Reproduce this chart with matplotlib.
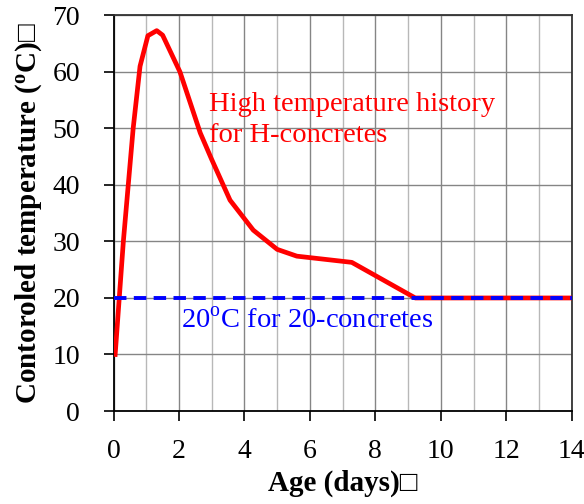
import numpy as np
import matplotlib
matplotlib.use("Agg")
import matplotlib.pyplot as plt
from matplotlib.ticker import MultipleLocator

plt.rcParams['font.family'] = ['Liberation Serif', 'DejaVu Sans']
plt.rcParams['mathtext.fontset'] = 'custom'
plt.rcParams['mathtext.rm'] = 'Liberation Serif'
plt.rcParams['mathtext.bf'] = 'Liberation Serif:bold'

# high temperature history (H-concretes)
age_h = [0.05, 0.3, 0.6, 0.81, 1.05, 1.32, 1.5, 2.03, 2.65, 3.0, 3.56, 4.27, 5.0, 5.6, 7.28, 9.22, 14.0]
temp_h = [10, 30, 50, 61, 66.4, 67.3, 66.5, 60, 49.2, 44.5, 37.3, 32, 28.6, 27.4, 26.3, 20, 20]

# 20 C for 20-concretes
age_20 = [0, 14]
temp_20 = [20, 20]

fig = plt.figure(figsize=(5.84, 5.04), dpi=100)
ax = fig.add_axes([0.1944, 0.1845, 0.7846, 0.785])

ax.plot(age_h, temp_h, color='#ff0000', lw=3.4, solid_joinstyle='round', zorder=3)
ax.plot(age_20, temp_20, color='#0000ff', lw=2.8, dashes=(3.2, 1.9), zorder=4)

ax.set_xlim(0, 14)
ax.set_ylim(0, 70)
ax.xaxis.set_major_locator(MultipleLocator(2))
ax.xaxis.set_minor_locator(MultipleLocator(1))
ax.yaxis.set_major_locator(MultipleLocator(10))

ax.grid(which='minor', axis='x', color='#b8b8b8', lw=1)
ax.grid(which='major', axis='both', color='#858585', lw=1)
ax.set_axisbelow(True)

ax.tick_params(which='major', direction='out', length=7, width=1.2, labelsize=20)
ax.tick_params(axis='x', pad=13)
ax.tick_params(axis='y', pad=17)
ax.tick_params(which='minor', length=0)
for s in ax.spines.values():
    s.set_linewidth(1.3)
    s.set_color('black')
ax.spines['top'].set_color('#333333')
ax.spines['right'].set_color('#333333')

ax.text(2.92, 51.5, 'High temperature history\nfor H-concretes', color='#ff0000',
        fontsize=20.5, va='center', ha='left', linespacing=1.3)
ax.text(2.06, 15.9, r'20$^{\rm o}$C for 20-concretes', color='#0000ff',
        fontsize=20.5, va='center', ha='left')

ax.set_xlabel('Age (days)\u25a1', fontsize=21, fontweight='bold', labelpad=4)
ax.set_ylabel(r'Contoroled temperature ($\mathbf{^o}$C)' + '\u25a1', fontsize=21,
              fontweight='bold', labelpad=6)

fig.savefig('out.png', dpi=100)
